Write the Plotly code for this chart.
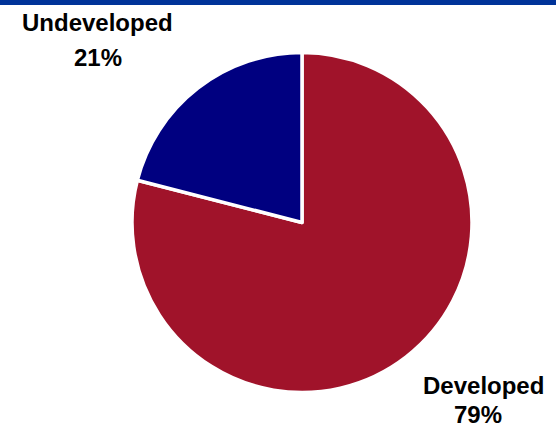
import plotly.graph_objects as go

labels = ["Developed", "Undeveloped"]
values = [79, 21]
colors = ["#A0132A", "#000080"]
pct_text = ["79%", "21%"]

W, H = 556, 427
cx, cy, r = 302, 222.5, 170

fig = go.Figure(go.Pie(
    labels=labels, values=values, sort=False, direction="clockwise",
    rotation=0, textinfo="none", hoverinfo="label+percent",
    marker=dict(colors=colors, line=dict(color="white", width=3.5)),
    domain=dict(x=[(cx - r) / W, (cx + r) / W], y=[(H - cy - r) / H, (H - cy + r) / H]),
    showlegend=False,
))

font = dict(family="Liberation Sans, Arial, sans-serif", size=24, color="black", weight="bold")
label_pos = {"Undeveloped": (97, 23, 98, 57), "Developed": (483, 385, 478, 414)}
for lab, pct in zip(labels, pct_text):
    x1, y1, x2, y2 = label_pos[lab]
    fig.add_annotation(x=x1 / W, y=1 - y1 / H, xref="paper", yref="paper", text=f"<b>{lab}</b>",
                       showarrow=False, xanchor="center", yanchor="middle", font=font)
    fig.add_annotation(x=x2 / W, y=1 - y2 / H, xref="paper", yref="paper", text=f"<b>{pct}</b>",
                       showarrow=False, xanchor="center", yanchor="middle", font=font)

fig.add_shape(type="rect", xref="paper", yref="paper", x0=0, x1=1, y0=1 - 5 / H, y1=1,
              fillcolor="#003399", line=dict(width=0), layer="above")

fig.update_layout(width=W, height=H, margin=dict(l=0, r=0, t=0, b=0),
                  paper_bgcolor="white", plot_bgcolor="white")
fig.write_html("out.html", config={"displayModeBar": False},
               post_script="document.body.style.margin='0';document.body.style.overflow='hidden';")
